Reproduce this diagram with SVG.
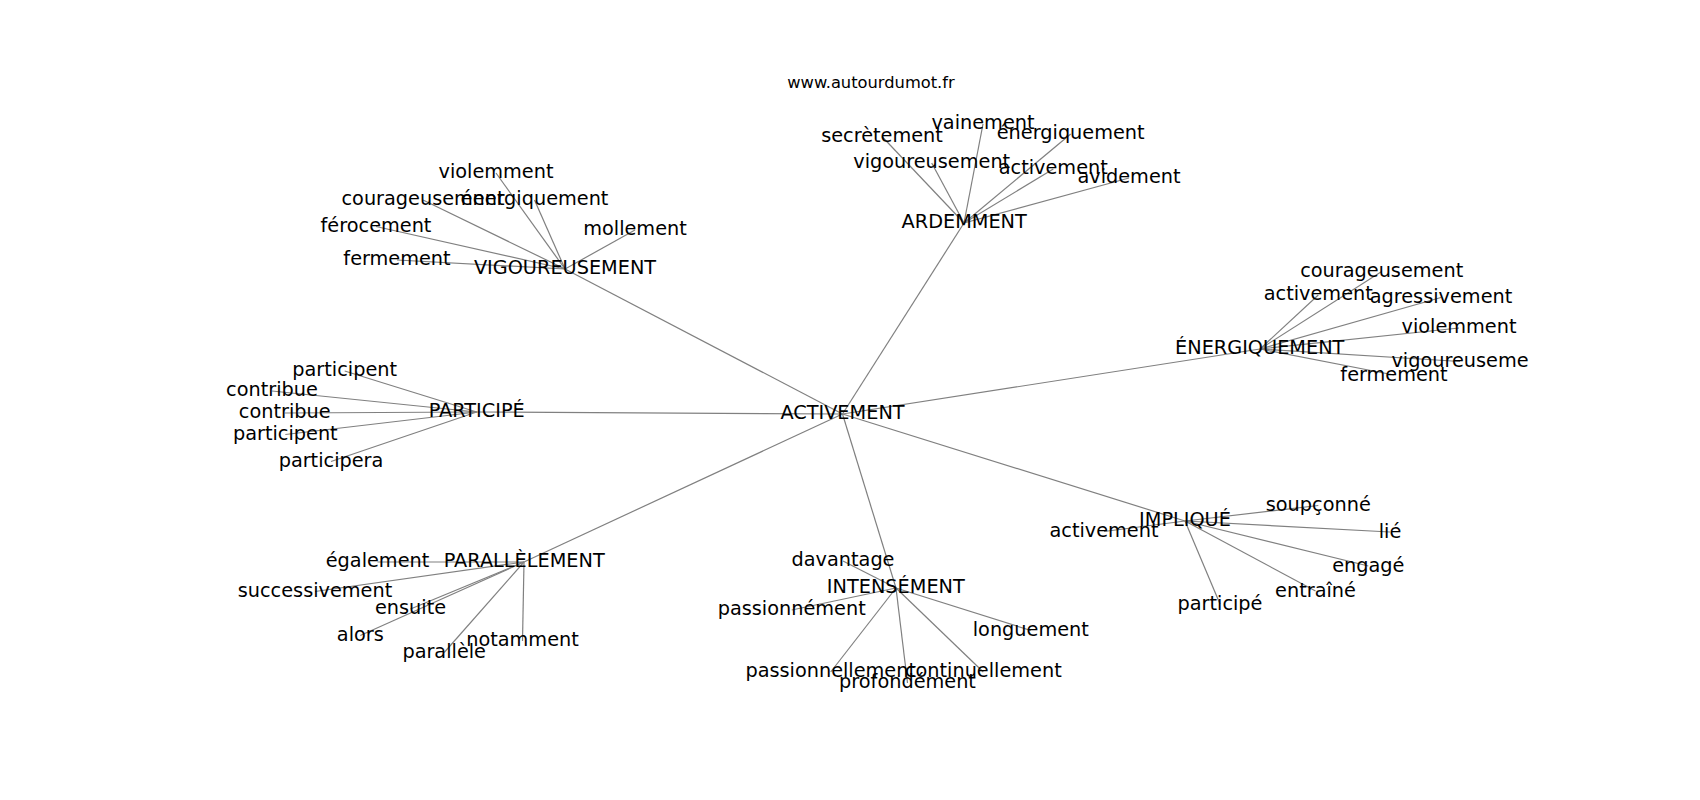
<svg xmlns="http://www.w3.org/2000/svg" width="1700" height="800" viewBox="0 0 1700 800">
<style>
.e{stroke:#808080;stroke-width:1.2;fill:none}
.t{font-family:"DejaVu Sans","Liberation Sans",sans-serif;font-size:19.3px;text-anchor:middle;fill:#000}
.title{font-family:"DejaVu Sans","Liberation Sans",sans-serif;font-size:16.3px;text-anchor:middle;fill:#000}
</style>
<rect width="1700" height="800" fill="#fff"/>
<text class="title" x="871" y="88">www.autourdumot.fr</text>
<g id="edges">
<line class="e" x1="842.5" y1="414" x2="565" y2="269"/>
<line class="e" x1="842.5" y1="414" x2="964" y2="223"/>
<line class="e" x1="842.5" y1="414" x2="1260" y2="349"/>
<line class="e" x1="842.5" y1="414" x2="476.7" y2="412"/>
<line class="e" x1="842.5" y1="414" x2="524" y2="562"/>
<line class="e" x1="842.5" y1="414" x2="896" y2="588"/>
<line class="e" x1="842.5" y1="414" x2="1185" y2="521"/>
<line class="e" x1="565" y1="269" x2="496" y2="173"/>
<line class="e" x1="565" y1="269" x2="423" y2="200"/>
<line class="e" x1="565" y1="269" x2="534.5" y2="200"/>
<line class="e" x1="565" y1="269" x2="376" y2="226.5"/>
<line class="e" x1="565" y1="269" x2="635" y2="230"/>
<line class="e" x1="565" y1="269" x2="397" y2="260"/>
<line class="e" x1="964" y1="223" x2="882" y2="136.5"/>
<line class="e" x1="964" y1="223" x2="983" y2="124"/>
<line class="e" x1="964" y1="223" x2="1070.7" y2="134"/>
<line class="e" x1="964" y1="223" x2="931.7" y2="163"/>
<line class="e" x1="964" y1="223" x2="1053.3" y2="169"/>
<line class="e" x1="964" y1="223" x2="1129" y2="178"/>
<line class="e" x1="1260" y1="349" x2="1381.7" y2="271.5"/>
<line class="e" x1="1260" y1="349" x2="1318.3" y2="295"/>
<line class="e" x1="1260" y1="349" x2="1441" y2="297.5"/>
<line class="e" x1="1260" y1="349" x2="1459" y2="328"/>
<line class="e" x1="1260" y1="349" x2="1460" y2="361.5"/>
<line class="e" x1="1260" y1="349" x2="1394" y2="375"/>
<line class="e" x1="476.7" y1="412" x2="344.7" y2="371"/>
<line class="e" x1="476.7" y1="412" x2="272" y2="391"/>
<line class="e" x1="476.7" y1="412" x2="284.7" y2="413"/>
<line class="e" x1="476.7" y1="412" x2="285.3" y2="434.5"/>
<line class="e" x1="476.7" y1="412" x2="331" y2="461.5"/>
<line class="e" x1="524" y1="562" x2="377.5" y2="562"/>
<line class="e" x1="524" y1="562" x2="315" y2="591.5"/>
<line class="e" x1="524" y1="562" x2="410.5" y2="609"/>
<line class="e" x1="524" y1="562" x2="360.3" y2="635.5"/>
<line class="e" x1="524" y1="562" x2="444.2" y2="652.5"/>
<line class="e" x1="524" y1="562" x2="522.5" y2="641"/>
<line class="e" x1="896" y1="588" x2="843" y2="561"/>
<line class="e" x1="896" y1="588" x2="791.7" y2="610"/>
<line class="e" x1="896" y1="588" x2="1030.8" y2="630.5"/>
<line class="e" x1="896" y1="588" x2="830.7" y2="672"/>
<line class="e" x1="896" y1="588" x2="907.5" y2="683"/>
<line class="e" x1="896" y1="588" x2="983.3" y2="672"/>
<line class="e" x1="1185" y1="521" x2="1318.3" y2="505.5"/>
<line class="e" x1="1185" y1="521" x2="1104" y2="531.5"/>
<line class="e" x1="1185" y1="521" x2="1390" y2="532"/>
<line class="e" x1="1185" y1="521" x2="1368.3" y2="566"/>
<line class="e" x1="1185" y1="521" x2="1315.5" y2="591"/>
<line class="e" x1="1185" y1="521" x2="1220" y2="604"/>
</g>
<g id="n-activement"><text class="t" x="842.5" y="419.3">ACTIVEMENT</text></g>
<g id="n-vigoureusement"><text class="t" x="565" y="274">VIGOUREUSEMENT</text></g>
<g id="n-v-violemment"><text class="t" x="496" y="178.3">violemment</text></g>
<g id="n-v-courageusement"><text class="t" x="423" y="205">courageusement</text></g>
<g id="n-v-energiquement"><text class="t" x="534.5" y="205">énergiquement</text></g>
<g id="n-v-ferocement"><text class="t" x="376" y="231.7">férocement</text></g>
<g id="n-v-mollement"><text class="t" x="635" y="235">mollement</text></g>
<g id="n-v-fermement"><text class="t" x="397" y="265">fermement</text></g>
<g id="n-ardemment"><text class="t" x="964.2" y="228.3">ARDEMMENT</text></g>
<g id="n-a-secretement"><text class="t" x="882" y="141.7">secrètement</text></g>
<g id="n-a-vainement"><text class="t" x="983" y="129.3">vainement</text></g>
<g id="n-a-energiquement"><text class="t" x="1070.7" y="139.3">énergiquement</text></g>
<g id="n-a-vigoureusement"><text class="t" x="931.7" y="168.3">vigoureusement</text></g>
<g id="n-a-activement"><text class="t" x="1053.3" y="174">activement</text></g>
<g id="n-a-avidement"><text class="t" x="1129" y="183.3">avidement</text></g>
<g id="n-energiquement"><text class="t" x="1259.7" y="354">ÉNERGIQUEMENT</text></g>
<g id="n-e-courageusement"><text class="t" x="1381.7" y="276.7">courageusement</text></g>
<g id="n-e-activement"><text class="t" x="1318.3" y="300">activement</text></g>
<g id="n-e-agressivement"><text class="t" x="1441" y="302.7">agressivement</text></g>
<g id="n-e-violemment"><text class="t" x="1459" y="333.3">violemment</text></g>
<g id="n-e-vigoureuseme"><text class="t" x="1460" y="366.7">vigoureuseme</text></g>
<g id="n-e-fermement"><text class="t" x="1394" y="380.5">fermement</text></g>
<g id="n-participe"><text class="t" x="476.7" y="417.3">PARTICIPÉ</text></g>
<g id="n-p-participent1"><text class="t" x="344.7" y="376">participent</text></g>
<g id="n-p-contribue1"><text class="t" x="272" y="396">contribue</text></g>
<g id="n-p-contribue2"><text class="t" x="284.7" y="418.3">contribue</text></g>
<g id="n-p-participent2"><text class="t" x="285.3" y="439.5">participent</text></g>
<g id="n-p-participera"><text class="t" x="331" y="466.5">participera</text></g>
<g id="n-parallelement"><text class="t" x="524.2" y="567.3">PARALLÈLEMENT</text></g>
<g id="n-l-egalement"><text class="t" x="377.5" y="567.3">également</text></g>
<g id="n-l-successivement"><text class="t" x="315" y="596.5">successivement</text></g>
<g id="n-l-ensuite"><text class="t" x="410.5" y="614">ensuite</text></g>
<g id="n-l-alors"><text class="t" x="360.3" y="640.7">alors</text></g>
<g id="n-l-parallele"><text class="t" x="444.2" y="657.5">parallèle</text></g>
<g id="n-l-notamment"><text class="t" x="522.5" y="646">notamment</text></g>
<g id="n-intensement"><text class="t" x="895.8" y="593.3">INTENSÉMENT</text></g>
<g id="n-i-davantage"><text class="t" x="843" y="566">davantage</text></g>
<g id="n-i-passionnement"><text class="t" x="791.7" y="615.3">passionnément</text></g>
<g id="n-i-longuement"><text class="t" x="1030.8" y="635.5">longuement</text></g>
<g id="n-i-passionnellement"><text class="t" x="830.7" y="677">passionnellement</text></g>
<g id="n-i-profondement"><text class="t" x="907.5" y="688">profondément</text></g>
<g id="n-i-continuellement"><text class="t" x="983.3" y="677">continuellement</text></g>
<g id="n-implique"><text class="t" x="1185" y="526.2">IMPLIQUÉ</text></g>
<g id="n-m-soupconne"><text class="t" x="1318.3" y="510.7">soupçonné</text></g>
<g id="n-m-activement"><text class="t" x="1104" y="536.7">activement</text></g>
<g id="n-m-lie"><text class="t" x="1390" y="537.5">lié</text></g>
<g id="n-m-engage"><text class="t" x="1368.3" y="571.5">engagé</text></g>
<g id="n-m-entraine"><text class="t" x="1315.5" y="596.5">entraîné</text></g>
<g id="n-m-participe"><text class="t" x="1220" y="609.5">participé</text></g>
</svg>
